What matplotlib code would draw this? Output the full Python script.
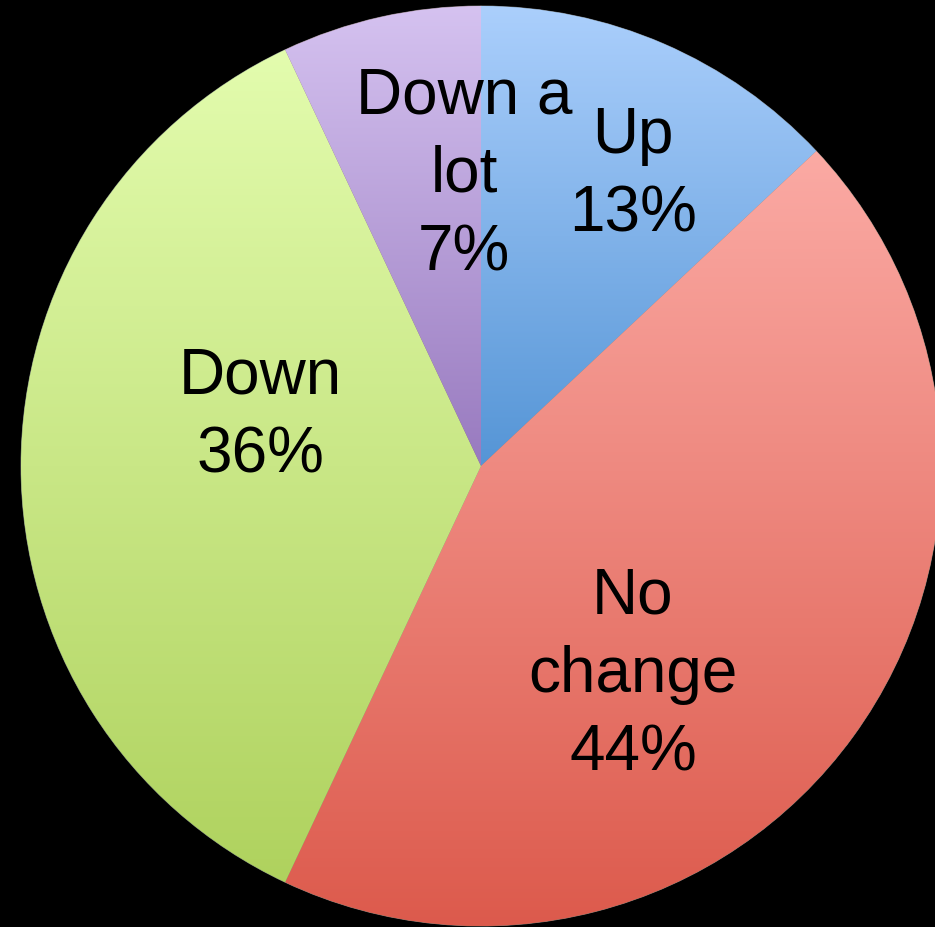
import numpy as np
import matplotlib.pyplot as plt
from matplotlib.colors import LinearSegmentedColormap

plt.rcParams['font.family'] = ['Liberation Sans', 'DejaVu Sans']

# datos del gráfico
categorias = ['Up', 'No\nchange', 'Down', 'Down a\nlot']
valores = [13, 44, 36, 7]
color_arriba = ['#abcffc', '#fbaaa4', '#e3fcae', '#d5c2f0']
color_abajo = ['#5595d6', '#dc594b', '#afd25e', '#987abf']
pos_etiquetas = [(633, 753), (633, 253), (260, 512), (464, 753)]

fig = plt.figure(figsize=(9.35, 9.28), dpi=100, facecolor='black')
ax = fig.add_axes([0, 0, 1, 1])
ax.set_facecolor('black')

wedges, _ = ax.pie(valores, startangle=90, counterclock=False,
                   center=(481, 461), radius=460, frame=True,
                   wedgeprops=dict(edgecolor='#808080', linewidth=0.6))

# relleno con degradado vertical recortado a cada sector
for w, c1, c2 in zip(wedges, color_arriba, color_abajo):
    verts = w.get_path().transformed(w.get_patch_transform()).vertices
    x0, x1 = verts[:, 0].min(), verts[:, 0].max()
    y0, y1 = verts[:, 1].min(), verts[:, 1].max()
    cmap = LinearSegmentedColormap.from_list('g', [c2, c1])
    grad = np.linspace(0, 1, 256).reshape(-1, 1)
    im = ax.imshow(grad, cmap=cmap, extent=(x0, x1, y0, y1), origin='lower',
                   aspect='auto', zorder=w.get_zorder() + 0.1)
    im.set_clip_path(w)

total = sum(valores)
for cat, v, (x, y) in zip(categorias, valores, pos_etiquetas):
    ax.text(x, y, f'{cat}\n{round(v / total * 100)}%', ha='center', va='center',
            fontsize=46, color='black', linespacing=1.4, zorder=10)

ax.set_xlim(0, 935)
ax.set_ylim(0, 928)
ax.set_aspect('equal')
ax.axis('off')

plt.savefig('out.png', dpi=100, facecolor='black')
